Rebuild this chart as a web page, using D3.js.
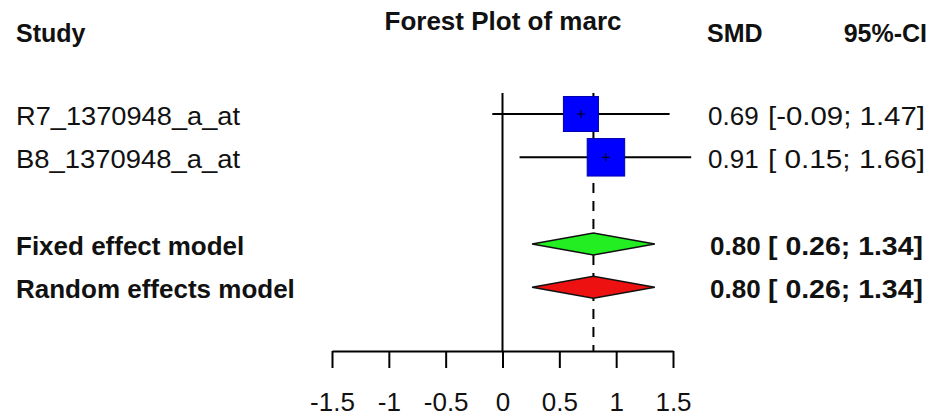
<!DOCTYPE html>
<html><head><meta charset="utf-8">
<script src="https://cdn.jsdelivr.net/npm/d3@7"></script>
<style>body{margin:0;background:#fff} text{font-family:"Liberation Sans",Arial,sans-serif;fill:#111}</style>
</head><body><svg id="c" width="933" height="416"></svg>
<script>
const title = "Forest Plot of marc";
const headers = ["Study", "SMD", "95%-CI"];
const studies = ["R7_1370948_a_at", "B8_1370948_a_at"];
const smd = [0.69, 0.91];
const lower = [-0.09, 0.15];
const upper = [1.47, 1.66];
const weights = [48.3, 51.7];
const models = ["Fixed effect model", "Random effects model"];
const modelSmd = [0.80, 0.80];
const modelLower = [0.26, 0.26];
const modelUpper = [1.34, 1.34];
const modelColors = ["#22EE22", "#EE1111"];
const ticks = [-1.5, -1, -0.5, 0, 0.5, 1, 1.5];

const svg = d3.select("#c");
const x = d3.scaleLinear().domain([-1.5, 1.5]).range([332, 673]);
const y = d3.scaleLinear().domain([0, 1]).range([114, 157.3]);
const studyRows = [0, 1], modelRows = [3, 4];
const axisY = 351, topY = 93;
const f2 = v => d3.format(".2f")(v).replace("\u2212", "-");
const ci = (l, u) => "[" + (l < 0 ? f2(l) : " " + f2(l)) + "; " + f2(u) + "]";

// header
svg.append("text").attr("x", 503).attr("y", 30).attr("text-anchor", "middle")
  .attr("font-size", 26).attr("font-weight", "bold").text(title);
svg.append("text").attr("x", 16).attr("y", 42).attr("font-size", 25).attr("font-weight", "bold").text(headers[0]);
svg.append("text").attr("x", 707).attr("y", 42).attr("font-size", 25).attr("font-weight", "bold").text(headers[1]);
svg.append("text").attr("x", 927).attr("y", 42).attr("text-anchor", "end").attr("font-size", 25).attr("font-weight", "bold").text(headers[2]);

// reference lines
svg.append("line").attr("x1", x(0)).attr("x2", x(0)).attr("y1", topY).attr("y2", axisY)
  .attr("stroke", "#000").attr("stroke-width", 2);
svg.append("line").attr("x1", x(modelSmd[0])).attr("x2", x(modelSmd[0])).attr("y1", topY).attr("y2", axisY)
  .attr("stroke", "#000").attr("stroke-width", 2).attr("stroke-dasharray", "10,8");

// studies
studies.forEach((s, i) => {
  const yy = y(studyRows[i]);
  svg.append("line").attr("x1", x(lower[i])).attr("x2", x(upper[i])).attr("y1", yy).attr("y2", yy)
    .attr("stroke", "#000").attr("stroke-width", 2);
  const sz = weights[i] * 0.725;
  svg.append("rect").attr("x", x(smd[i]) - sz / 2).attr("y", yy - sz / 2).attr("width", sz).attr("height", sz)
    .attr("fill", "#0000FF").attr("stroke", "#0000B0").attr("stroke-width", 1);
  svg.append("line").attr("x1", x(smd[i]) - 4).attr("x2", x(smd[i]) + 4).attr("y1", yy).attr("y2", yy)
    .attr("stroke", "#000").attr("stroke-width", 1);
  svg.append("line").attr("x1", x(smd[i])).attr("x2", x(smd[i])).attr("y1", yy - 4).attr("y2", yy + 4)
    .attr("stroke", "#000").attr("stroke-width", 1);
  svg.append("text").attr("x", 16).attr("y", yy + 11).attr("font-size", 26)
    .attr("textLength", 224).attr("lengthAdjust", "spacingAndGlyphs").text(s);
  svg.append("text").attr("x", 708).attr("y", yy + 11).attr("font-size", 26).text(f2(smd[i]));
  svg.append("text").attr("x", 768).attr("y", yy + 11).attr("font-size", 26)
    .attr("textLength", 157).attr("lengthAdjust", "spacingAndGlyphs").text(ci(lower[i], upper[i]));
});

// models
models.forEach((m, i) => {
  const yy = y(modelRows[i]);
  const h = 11;
  const pts = [[x(modelLower[i]), yy], [x(modelSmd[i]), yy - h], [x(modelUpper[i]), yy], [x(modelSmd[i]), yy + h]];
  svg.append("path").attr("d", d3.line()(pts) + "Z")
    .attr("fill", modelColors[i]).attr("stroke", "#111").attr("stroke-width", 1.5);
  svg.append("text").attr("x", 16).attr("y", yy + 11).attr("font-size", 26).attr("font-weight", "bold").text(m);
  svg.append("text").attr("x", 710).attr("y", yy + 11).attr("font-size", 26).attr("font-weight", "bold").text(f2(modelSmd[i]));
  svg.append("text").attr("x", 768).attr("y", yy + 11).attr("font-size", 26).attr("font-weight", "bold")
    .attr("textLength", 155).attr("lengthAdjust", "spacingAndGlyphs").text(ci(modelLower[i], modelUpper[i]));
});

// axis
const ax = svg.append("g").attr("transform", `translate(0,${axisY})`)
  .call(d3.axisBottom(x).tickValues(ticks).tickSize(17).tickSizeOuter(0).tickPadding(24.5).tickFormat(d => String(d)));
ax.select(".domain").attr("stroke", "#000").attr("stroke-width", 2);
ax.selectAll(".tick line").attr("stroke", "#000").attr("stroke-width", 2);
ax.selectAll(".tick text").attr("font-size", 26).attr("font-family", "Liberation Sans, Arial, sans-serif").attr("fill", "#111");
</script></body></html>
